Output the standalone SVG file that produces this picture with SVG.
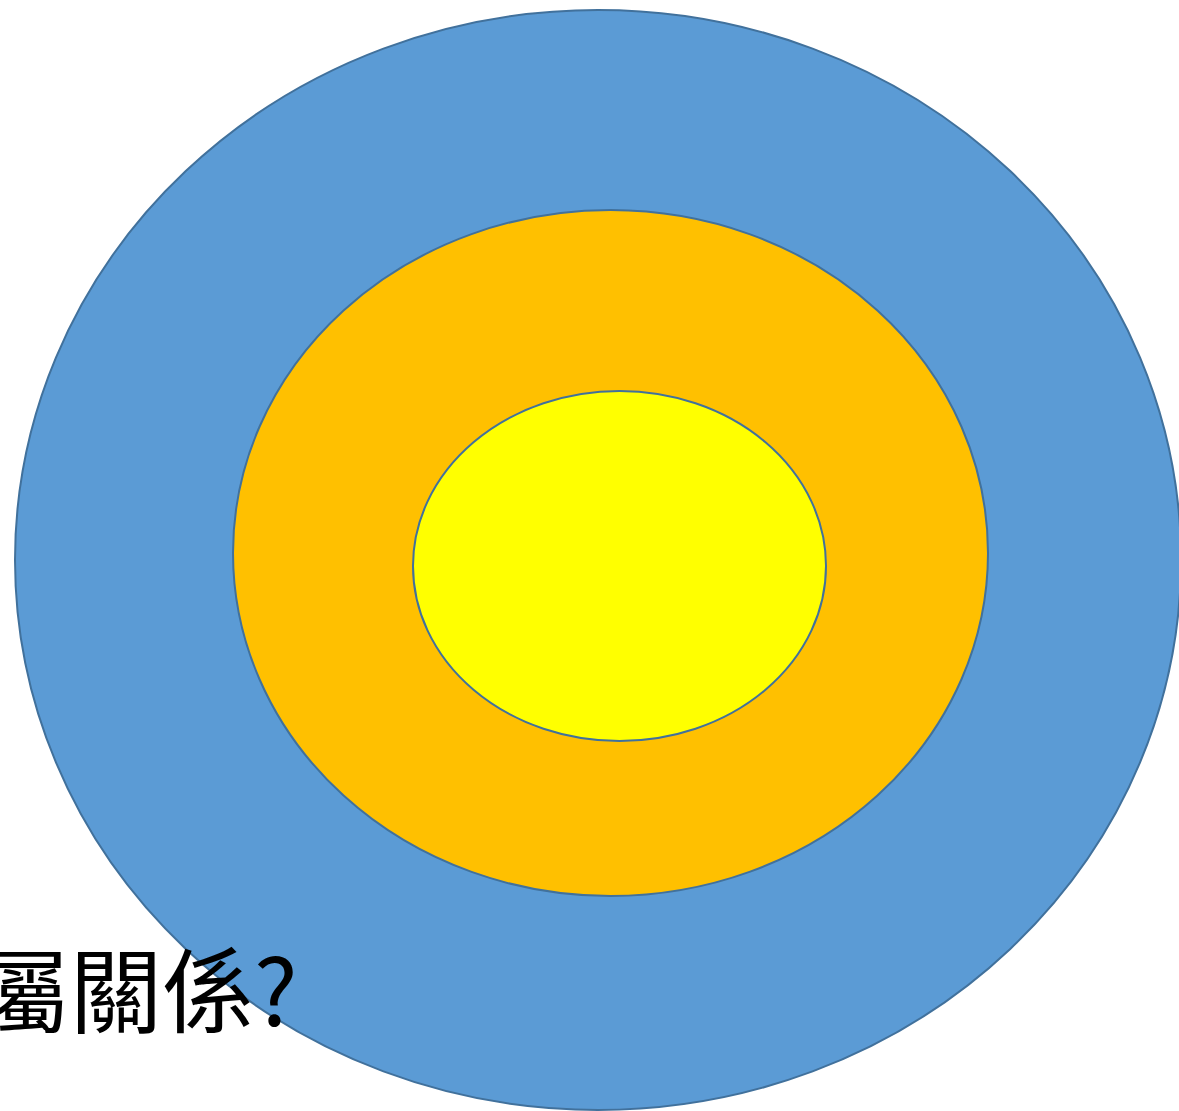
<svg xmlns="http://www.w3.org/2000/svg" width="1179" height="1111" viewBox="0 0 1179 1111">
<style>
.ring{stroke:#41719C;stroke-width:2}
.t{font-family:"Noto Sans CJK TC","Noto Sans CJK SC",sans-serif;font-size:92px;fill:#000}
</style>
<rect width="1179" height="1111" fill="#fff"/>
<g id="outer"><ellipse class="ring" cx="598" cy="560" rx="583" ry="550" fill="#5B9BD5"/></g>
<g id="middle"><ellipse class="ring" cx="610.5" cy="553" rx="377.5" ry="343" fill="#FFC000"/></g>
<g id="inner"><ellipse class="ring" cx="619.5" cy="566" rx="206.5" ry="175" fill="#FFFF00"/></g>
<g id="connectors"></g>
<g id="label"><text class="t" x="-22" y="1026">屬關係?</text></g>
</svg>
